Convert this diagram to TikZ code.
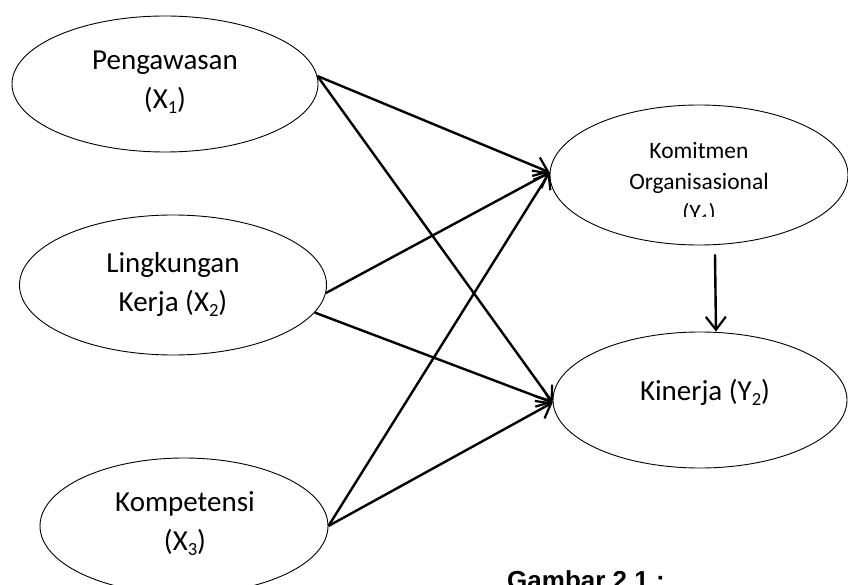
\documentclass[tikz,border=0pt]{standalone}
\usepackage{fontspec}
\usepackage{graphicx}
\setmainfont{Carlito}
\newfontfamily\capfont{Liberation Sans}
\usetikzlibrary{shapes.geometric,arrows.meta}
\newcommand\lsub[1]{\raisebox{-0.17em}{\scalebox{0.64}{#1}}}
\tikzset{
  var/.style={ellipse,draw=black,line width=0.9pt,inner sep=0pt},
  lbl/.style={align=center,font=\fontsize{29}{39}\selectfont,inner sep=0pt},
  path/.style={line width=2.4pt,-{Straight Barb[length=13pt,width=20pt,line width=2.2pt]}}
}
\begin{document}
\begin{tikzpicture}[x=1pt,y=-1pt]
\useasboundingbox (0,0) rectangle (848,585);
\node[var,minimum width=306pt,minimum height=136pt] (x1) at (165,84) {};
\node[lbl] (t1) at (165,82) {Pengawasan\\(X\lsub{1})};
\node[var,minimum width=307pt,minimum height=140pt] (x2) at (173,285) {};
\node[lbl] (t2) at (173,284) {Lingkungan\\Kerja (X\lsub{2})};
\node[var,minimum width=288pt,minimum height=136pt] (x3) at (184,526) {};
\node[lbl] (t3) at (185,524) {Kompetensi\\(X\lsub{3})};
\node[var,minimum width=298pt,minimum height=140pt] (kom) at (699,175) {};
\begin{scope}
\clip (550,100) rectangle (848,217);
\node[align=center,inner sep=0pt,font=\fontsize{23.5}{31}\selectfont,anchor=north] (t4) at (699,142) {Komitmen\\Organisasional\\(Y\lsub{1})};
\end{scope}
\node[var,minimum width=294pt,minimum height=136pt] (kin) at (700,400) {};
\node[lbl] (t5) at (705,392) {Kinerja (Y\lsub{2})};
\draw[path] (x1.3) -- (kom.179);
\draw[path] (x1.3) -- (kin.181);
\draw[path] (x2.-3) -- (kom.179);
\draw[path] (x2.-11) -- (kin.181);
\draw[path] (x3.east) -- (kom.179);
\draw[path] (x3.east) -- (kin.181);
\draw[path] ([shift={(16pt,-9pt)}]kom.south) -- ([xshift=16pt]kin.north);
\node[anchor=base west,inner sep=0pt,font=\capfont\bfseries\fontsize{26}{30}\selectfont] (cap) at (507,589) {Gambar 2.1 :};
\end{tikzpicture}
\end{document}
